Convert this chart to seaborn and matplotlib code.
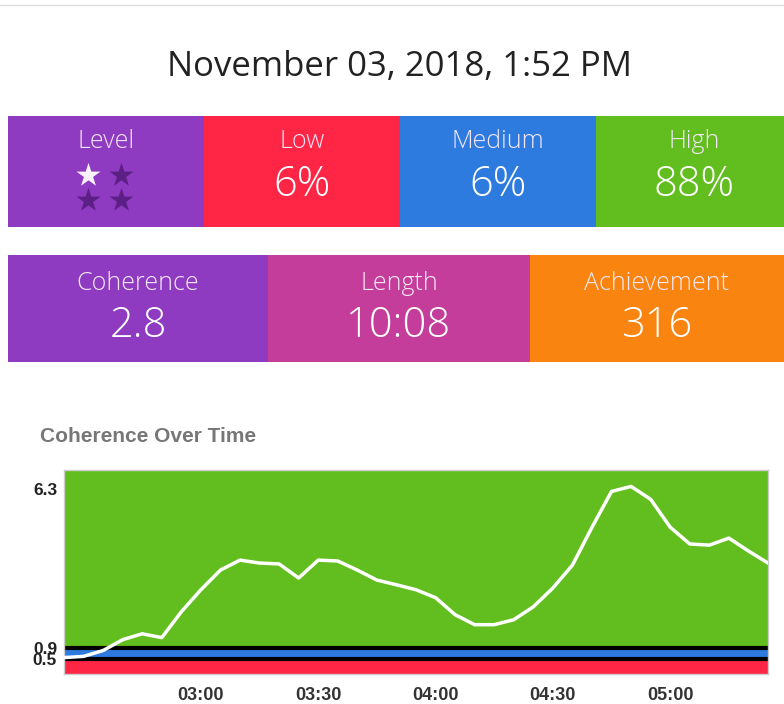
import numpy as np
import pandas as pd
import matplotlib
matplotlib.use("Agg")
import matplotlib.pyplot as plt
from matplotlib.patches import Rectangle
import seaborn as sns

sns.set_style("white")
plt.rcParams['font.family'] = ['Open Sans', 'DejaVu Sans']

# ---- data ----
title = "November 03, 2018, 1:52 PM"
row1_labels = ["Level", "Low", "Medium", "High"]
row1_values = [None, "6%", "6%", "88%"]
row1_colors = ["#8E3AC1", "#FF2545", "#2E7BE0", "#62BE1E"]
row2_labels = ["Coherence", "Length", "Achievement"]
row2_values = ["2.8", "10:08", "316"]
row2_colors = ["#8E3AC1", "#C43D9B", "#FA8410"]
level_stars = [1, 0, 0, 0]  # filled / not filled

# coherence samples every 5 min from 02:25 to 05:25 (minutes)
minutes = list(range(145, 326, 5))
coherence = [0.56, 0.60, 0.80, 1.17, 1.37, 1.24, 2.12, 2.87, 3.54, 3.88,
             3.78, 3.75, 3.27, 3.88, 3.85, 3.54, 3.20, 3.04, 2.87, 2.60,
             2.02, 1.68, 1.68, 1.85, 2.29, 2.93, 3.71, 5.00, 6.22, 6.39,
             5.95, 5.00, 4.43, 4.39, 4.63, 4.19, 3.78]
low_thr, mid_thr = 0.5, 0.9
ytick_vals = [0.5, 0.9, 6.3]
xtick_vals = [180, 210, 240, 270, 300]
xtick_labels = ["03:00", "03:30", "04:00", "04:30", "05:00"]

df = pd.DataFrame({"minute": minutes, "coherence": coherence})

fig = plt.figure(figsize=(7.84, 7.04), dpi=100)

# ---- tiles (pixel coords overlay) ----
bg = fig.add_axes([0, 0, 1, 1])
bg.set_xlim(0, 784)
bg.set_ylim(704, 0)
bg.axis("off")
bg.plot([0, 784], [5, 5], color="#dddddd", lw=1)
bg.text(400, 67, title, ha="center", va="center", fontsize=25, color="#222222")

w1 = 196
for i, (lab, val, col) in enumerate(zip(row1_labels, row1_values, row1_colors)):
    x0 = 8 + i * w1
    bg.add_patch(Rectangle((x0, 116), w1, 111, color=col, lw=0))
    cx = x0 + w1 / 2
    bg.text(cx, 142, lab, ha="center", va="center", fontsize=18, color="#f2e6f8", fontweight="light")
    if val is not None:
        bg.text(cx, 185, val, ha="center", va="center", fontsize=30, color="white", fontweight="light")

star_pos = [(88, 175), (121, 175), (88, 200), (121, 200)]
for (sx, sy), on in zip(star_pos, level_stars):
    bg.scatter(sx, sy, marker="*", s=330, color="#f7f2fa" if on else "#5B1F85", lw=0)

w2 = [260, 262, 254]
x0 = 8
for lab, val, col, w in zip(row2_labels, row2_values, row2_colors, w2):
    bg.add_patch(Rectangle((x0, 255), w, 107, color=col, lw=0))
    cx = x0 + w / 2
    bg.text(cx, 284, lab, ha="center", va="center", fontsize=18, color="#f5e9f5", fontweight="light")
    bg.text(cx, 326, val, ha="center", va="center", fontsize=30, color="white", fontweight="light")
    x0 += w

bg.text(40, 436, "Coherence Over Time", ha="left", va="center", fontsize=15,
        color="#777777", fontweight="bold", family="Liberation Sans")

# ---- chart ----
ax = fig.add_axes([64 / 784, 30 / 704, 704 / 784, 204 / 704])
ymax = 6.95
ax.axhspan(0, low_thr, color="#FF2545", lw=0, zorder=0)
ax.axhspan(low_thr, mid_thr, color="#2E7BE0", lw=0, zorder=0)
ax.axhspan(mid_thr, ymax, color="#62BE1E", lw=0, zorder=0)
ax.axhline(low_thr, color="black", lw=3, zorder=1)
ax.axhline(mid_thr, color="black", lw=3, zorder=1)
sns.lineplot(data=df, x="minute", y="coherence", ax=ax, color="white", lw=2.5, zorder=3)
ax.set_xlim(minutes[0], minutes[-1])
ax.set_ylim(0, ymax)
ax.set_yticks(ytick_vals)
ax.set_yticklabels([str(v) for v in ytick_vals], fontsize=12.5, color="#222222",
                   fontweight="bold", family="Liberation Sans")
ax.set_xticks(xtick_vals)
ax.set_xticklabels(xtick_labels, fontsize=13, color="#333333", fontweight="bold",
                   family="Liberation Sans")
ax.tick_params(length=0)
ax.tick_params(axis="y", pad=5)
ax.tick_params(axis="x", pad=9)
ax.set_xlabel("")
ax.set_ylabel("")
for s in ax.spines.values():
    s.set_color("#cccccc")
    s.set_linewidth(1)

fig.savefig("out.png", dpi=100)
